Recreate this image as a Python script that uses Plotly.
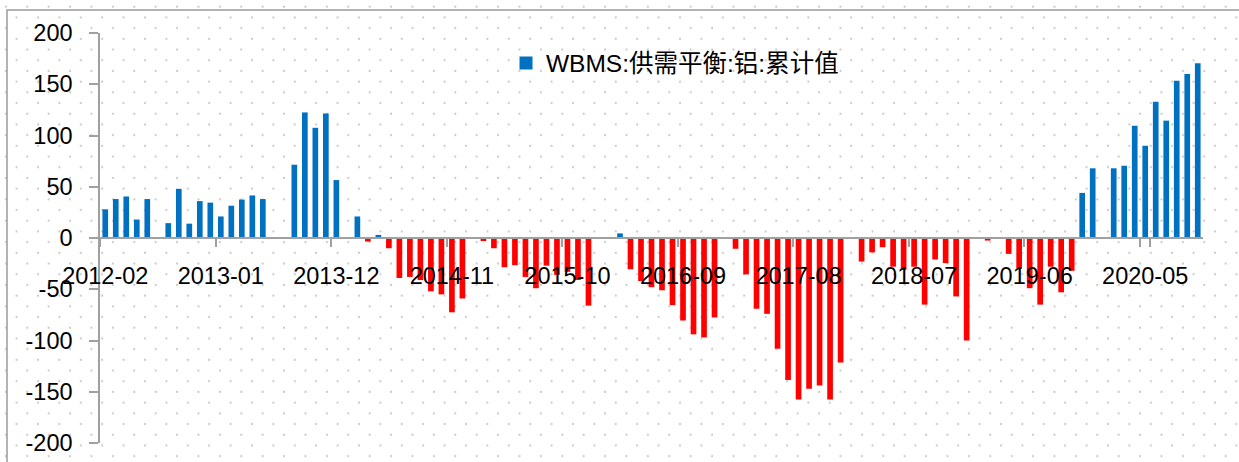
import base64
import pandas as pd
import plotly.graph_objects as go

# ---- data ----
months = list(pd.period_range("2012-02", periods=105, freq="M").strftime("%Y-%m"))
values = [
    28, 38, 40.5, 18, 38, None, 14.5, 48, 14, 36, 34.5, 21,
    31.5, 37.5, 41.5, 38, None, None, 71.5, 122.5, 107.5, 121.5, 56.5, None,
    21, -3.5, 3, -10, -39, -38, -41, -52, -55, -72.5, -59, None,
    -3, -10, -28.5, -26.5, -38, -49, -27, -36, -33, -41, -66, None,
    0.4, 4.5, -30.5, -42, -48, -51, -65.5, -80.5, -94, -97, -77.5, None,
    -10.5, -35.5, -69, -74, -108, -138.5, -157.5, -147, -144, -157.5, -121.5, None,
    -23, -14, -9, -28, -31, -28, -65, -21, -24.5, -57, -100, None,
    -2.5, -0.4, -15.5, -30, -49, -65, -28, -53, -32, 44, 68, None,
    68, 70.5, 109.5, 90, 133, 114.5, 153.5, 160, 170.5,
]
series_name = "WBMS:供需平衡:铝:累计值"
tick_labels = months[::11]
y_ticks = [200, 150, 100, 50, 0, -50, -100, -150, -200]

pos_vals = [v if (v is not None and v >= 0) else None for v in values]
neg_vals = [v if (v is not None and v < 0) else None for v in values]

BLUE = "#0070C0"
RED = "#FF0000"
FONT = "Liberation Sans, Noto Sans CJK SC, sans-serif"

W, H = 1239, 462
ML, MR, MT, MB = 100, 36, 33, 19
PW, PH = W - ML - MR, H - MT - MB

fig = go.Figure()
fig.add_trace(go.Bar(x=months, y=pos_vals, name=series_name, marker_color=BLUE,
                     marker_line_width=0, showlegend=False))
fig.add_trace(go.Bar(x=months, y=neg_vals, name=series_name, marker_color=RED,
                     marker_line_width=0, showlegend=False))
# legend entry (square swatch like the reference)
fig.add_trace(go.Scatter(x=[None], y=[None], mode="markers", name=series_name,
                         marker=dict(symbol="square", size=13, color=BLUE),
                         showlegend=True))

# dotted pattern background (decoration)
svg = f'''<svg xmlns="http://www.w3.org/2000/svg" width="{W}" height="{H}">
<defs><pattern id="p" width="21.4" height="21.4" patternUnits="userSpaceOnUse">
<circle cx="5.9" cy="6.7" r="1.05" fill="#c4c4c4"/>
<circle cx="16.6" cy="17.4" r="1.05" fill="#c4c4c4"/>
</pattern></defs>
<rect width="100%" height="100%" fill="url(#p)"/></svg>'''
src = "data:image/svg+xml;base64," + base64.b64encode(svg.encode()).decode()


def px_x(p):
    return (p - ML) / PW


def px_y(p):
    return (H - MB - p) / PH


fig.add_layout_image(dict(source=src, xref="paper", yref="paper",
                          x=px_x(0), y=px_y(0), sizex=W / PW, sizey=H / PH,
                          xanchor="left", yanchor="top", sizing="stretch",
                          layer="below"))

fig.add_shape(type="rect", xref="paper", yref="paper",
              x0=px_x(7), x1=px_x(W + 10), y0=px_y(H + 10), y1=px_y(10),
              line=dict(color="#9a9a9a", width=1.5), fillcolor="rgba(0,0,0,0)")

fig.update_layout(
    width=W, height=H,
    margin=dict(l=ML, r=MR, t=MT, b=MB, pad=0, autoexpand=False),
    paper_bgcolor="white", plot_bgcolor="rgba(0,0,0,0)",
    barmode="relative", bargap=0.46,
    font=dict(family=FONT, size=23, color="black"),
    showlegend=True,
    legend=dict(x=px_x(506), y=px_y(63), xanchor="left", yanchor="middle",
                bgcolor="rgba(0,0,0,0)", font=dict(size=24.5, family=FONT)),
    xaxis=dict(type="category", categoryorder="array", categoryarray=months,
               range=[-0.5, len(months) - 0.5],
               anchor="free", position=0.5, automargin=False,
               showline=True, linecolor="#a0a0a0", linewidth=1.5,
               ticks="outside", ticklen=8, tickcolor="#a0a0a0", tickwidth=1.5,
               tickson="boundaries",
               tickmode="array", tickvals=tick_labels, ticktext=tick_labels,
               tickangle=0, showgrid=False, zeroline=False,
               ticklabelstandoff=17,
               tickfont=dict(size=23.5, family=FONT, color="black")),
    yaxis=dict(range=[-200, 200], tickmode="array", tickvals=y_ticks,
               ticktext=[str(v) for v in y_ticks], automargin=False,
               showline=True, linecolor="#a0a0a0", linewidth=1.5,
               ticks="outside", ticklen=9, tickcolor="#a0a0a0", tickwidth=1.5,
               showgrid=False, zeroline=False, ticklabelstandoff=12,
               tickfont=dict(size=23.5, family=FONT, color="black")),
)

fig.write_html("out.html")
